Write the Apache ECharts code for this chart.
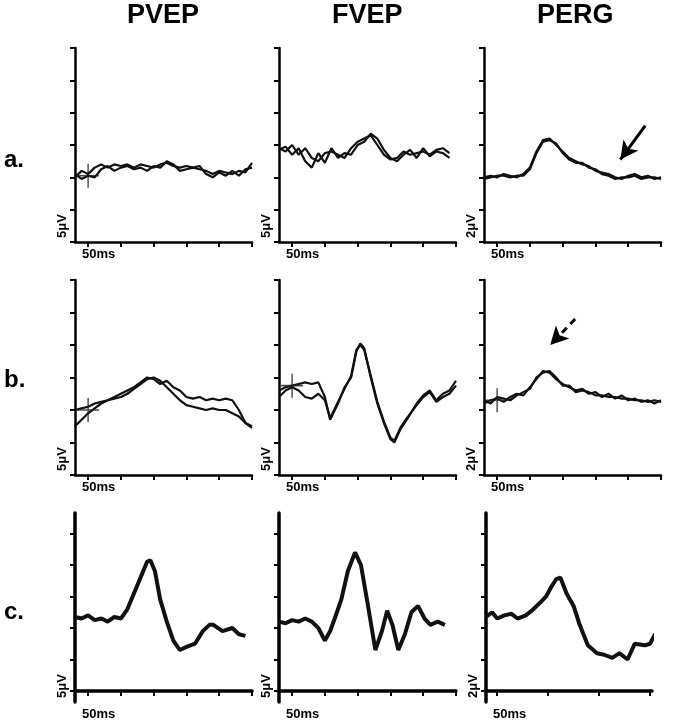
<!DOCTYPE html>
<html><head><meta charset="utf-8">
<script src="https://cdn.jsdelivr.net/npm/echarts@6/dist/echarts.min.js"></script>
<style>html,body{margin:0;background:#fff}#c{width:675px;height:722px}</style>
</head><body><div id="c"></div>
<script>
const columns = ['PVEP','FVEP','PERG'];
const rows = ['a.','b.','c.'];
const scaleLabels = ['5μV','5μV','2μV'];
const timeLabel = '50ms';
const xTicksStd = [50,100,150,200,250,300];
const xTicksPergC = [50,100,150,200];

const aPVEP1=[[30,2.0],[40,2.2],[50,2.1],[60,2.3],[70,2.4],[80,2.3],[90,2.4],[100,2.35],[110,2.4],[120,2.3],[130,2.4],[140,2.35],[150,2.3],[160,2.4],[170,2.45],[180,2.35],[190,2.3],[200,2.35],[210,2.3],[220,2.25],[230,2.2],[240,2.1],[250,2.2],[260,2.15],[270,2.1],[280,2.2],[290,2.15],[300,2.45]];
const aPVEP2=[[30,2.1],[40,1.95],[50,2.05],[60,2.0],[70,2.25],[80,2.35],[90,2.2],[100,2.3],[110,2.35],[120,2.25],[130,2.3],[140,2.2],[150,2.35],[160,2.3],[170,2.5],[180,2.4],[190,2.2],[200,2.25],[210,2.3],[220,2.35],[230,2.1],[240,2.0],[250,2.15],[260,2.05],[270,2.2],[280,2.05],[290,2.25],[300,2.3]];
const aFVEP1=[[30,2.9],[40,2.8],[50,3.0],[60,2.7],[70,2.9],[80,2.6],[90,2.5],[100,2.75],[110,2.8],[120,2.7],[130,2.6],[140,2.9],[150,3.1],[160,3.2],[170,3.3],[180,3.0],[190,2.7],[200,2.55],[210,2.6],[220,2.8],[230,2.7],[240,2.75],[250,2.8],[260,2.7],[270,2.85],[280,2.9],[290,2.75]];
const aFVEP2=[[30,2.85],[40,2.95],[50,2.7],[60,2.9],[70,2.5],[80,2.3],[90,2.75],[100,2.45],[110,2.9],[120,2.6],[130,2.75],[140,2.7],[150,3.0],[160,3.1],[170,3.35],[180,3.2],[190,2.85],[200,2.6],[210,2.5],[220,2.7],[230,2.85],[240,2.6],[250,2.9],[260,2.65],[270,2.8],[280,2.75],[290,2.6]];
const aPERG1=[[30,2.0],[40,2.05],[50,2.0],[60,2.1],[70,2.05],[80,2.0],[90,2.1],[100,2.3],[110,2.8],[120,3.15],[130,3.2],[140,3.0],[150,2.8],[160,2.6],[170,2.5],[180,2.4],[190,2.35],[200,2.2],[210,2.15],[220,2.1],[230,2.0],[240,1.95],[250,2.05],[260,2.1],[270,2.0],[280,2.05],[290,1.95],[300,2.0]];
const aPERG2=[[30,1.95],[40,2.0],[50,2.05],[60,2.05],[70,2.0],[80,2.05],[90,2.05],[100,2.25],[110,2.75],[120,3.1],[130,3.15],[140,3.05],[150,2.75],[160,2.55],[170,2.45],[180,2.45],[190,2.3],[200,2.25],[210,2.1],[220,2.05],[230,1.95],[240,2.0],[250,2.0],[260,2.05],[270,1.95],[280,2.0],[290,2.0],[300,1.95]];
const bPVEP1=[[30,2.0],[40,2.05],[50,2.1],[60,2.2],[70,2.25],[80,2.3],[90,2.4],[100,2.5],[110,2.6],[120,2.7],[130,2.85],[140,3.0],[150,2.95],[160,2.8],[170,2.9],[180,2.7],[190,2.6],[200,2.4],[210,2.35],[220,2.4],[230,2.3],[240,2.35],[250,2.3],[260,2.35],[270,2.3],[280,2.0],[290,1.6],[300,1.45]];
const bPVEP2=[[30,1.5],[40,1.7],[50,1.9],[60,2.05],[70,2.2],[80,2.3],[90,2.35],[100,2.4],[110,2.5],[120,2.65],[130,2.8],[140,2.95],[150,3.0],[160,2.9],[170,2.7],[180,2.5],[190,2.3],[200,2.15],[210,2.1],[220,2.05],[230,2.0],[240,2.05],[250,2.0],[260,2.0],[270,1.9],[280,1.8],[290,1.6],[300,1.5]];
const bFVEP1=[[30,2.6],[40,2.7],[50,2.75],[60,2.8],[70,2.85],[80,2.8],[90,2.85],[100,2.4],[108,1.7],[120,2.2],[130,2.7],[140,3.0],[148,3.8],[154,4.05],[160,3.9],[170,3.0],[180,2.2],[190,1.6],[200,1.1],[206,1.0],[215,1.4],[225,1.7],[240,2.2],[250,2.45],[260,2.6],[270,2.3],[280,2.5],[290,2.6],[300,2.9]];
const bFVEP2=[[30,2.4],[40,2.6],[50,2.7],[60,2.6],[70,2.4],[80,2.35],[90,2.5],[100,2.3],[108,1.75],[120,2.25],[130,2.65],[140,3.05],[148,3.85],[154,4.0],[160,3.85],[170,3.05],[180,2.25],[190,1.65],[200,1.15],[206,1.05],[215,1.45],[225,1.75],[240,2.15],[250,2.4],[260,2.55],[270,2.25],[280,2.4],[290,2.5],[300,2.75]];
const bPERG1=[[30,2.2],[40,2.3],[50,2.35],[60,2.25],[70,2.4],[80,2.5],[90,2.45],[100,2.7],[110,2.95],[120,3.2],[130,3.15],[140,2.95],[150,2.8],[160,2.7],[170,2.6],[180,2.65],[190,2.5],[200,2.55],[210,2.4],[220,2.5],[230,2.35],[240,2.45],[250,2.3],[260,2.35],[270,2.25],[280,2.3],[290,2.2],[300,2.3]];
const bPERG2=[[30,2.3],[40,2.2],[50,2.4],[60,2.35],[70,2.3],[80,2.45],[90,2.55],[100,2.65],[110,3.0],[120,3.15],[130,3.2],[140,3.0],[150,2.75],[160,2.75],[170,2.55],[180,2.6],[190,2.55],[200,2.45],[210,2.45],[220,2.4],[230,2.4],[240,2.35],[250,2.35],[260,2.3],[270,2.3],[280,2.25],[290,2.3],[300,2.25]];
const cPVEP=[[30,2.35],[40,2.3],[50,2.4],[60,2.25],[70,2.3],[80,2.2],[90,2.35],[100,2.3],[110,2.6],[120,3.1],[130,3.6],[140,4.1],[145,4.15],[152,3.8],[160,2.9],[170,2.2],[180,1.6],[190,1.3],[200,1.4],[213,1.5],[225,1.9],[235,2.1],[241,2.1],[255,1.9],[270,2.0],[280,1.8],[290,1.75]];
const cFVEP=[[30,2.2],[40,2.15],[50,2.25],[60,2.2],[70,2.3],[80,2.2],[90,2.0],[100,1.6],[108,1.9],[115,2.3],[125,2.9],[135,3.8],[146,4.4],[155,4.0],[165,2.8],[177,1.3],[187,1.9],[195,2.55],[203,2.1],[212,1.3],[222,1.8],[232,2.5],[242,2.7],[252,2.3],[261,2.1],[272,2.2],[283,2.1]];
const cPERG=[[39,2.35],[45,2.5],[50,2.3],[57,2.4],[64,2.45],[70,2.3],[78,2.4],[84,2.55],[92,2.8],[98,3.0],[103,3.3],[108,3.55],[112,3.6],[118,3.1],[125,2.7],[131,2.1],[139,1.45],[148,1.2],[155,1.15],[163,1.05],[170,1.2],[178,1.0],[185,1.5],[195,1.45],[200,1.5],[205,1.8],[209,1.78]];
const crossA=[[50,2.05]], crossB=[[50,2.0]];
const arrowA=[[276,3.6],[238,2.55]];
const arrowB=[[169,4.8],[131,4.0]];

const panels=[
 {r:0,c:0,series:[aPVEP1,aPVEP2],cross:crossA},
 {r:0,c:1,series:[aFVEP1,aFVEP2]},
 {r:0,c:2,series:[aPERG1,aPERG2],arrow:arrowA,dashed:false},
 {r:1,c:0,series:[bPVEP1,bPVEP2],cross:crossB},
 {r:1,c:1,series:[bFVEP1,bFVEP2],cross:[[50,2.75]]},
 {r:1,c:2,series:[bPERG1,bPERG2],arrow:arrowB,dashed:true,cross:[[50,2.3]]},
 {r:2,c:0,series:[cPVEP]},
 {r:2,c:1,series:[cFVEP]},
 {r:2,c:2,series:[cPERG]}
];
const colLeft=[75,279,484], rowTop=[48,280,513], rowH=[194,195,189];
const grid=[],xAxis=[],yAxis=[],series=[];
panels.forEach((p,i)=>{
  const pc = p.r===2&&p.c===2;
  const thick = p.r===2;
  grid.push({left:pc?486:colLeft[p.c],top:rowTop[p.r],width:pc?166:177,height:rowH[p.r]});
  const axLine={lineStyle:{color:'#000',width:thick?3.5:2.5}};
  xAxis.push({type:'value',gridIndex:i,min:pc?39:30,max:pc?202:300,splitLine:{show:false},
    axisLine:axLine,axisLabel:{show:false},
    axisTick:{show:true,length:5,lineStyle:{color:'#000',width:2},customValues:pc?xTicksPergC:xTicksStd}});
  const yt = thick?[0,1,2,3,4,5]:[0,1,2,3,4,5,6];
  yAxis.push({type:'value',gridIndex:i,min:thick?-0.35:0,max:thick?5.65:6,splitLine:{show:false},
    axisLine:axLine,axisLabel:{show:false},
    axisTick:{show:true,length:5,lineStyle:{color:'#000',width:2},customValues:yt}});
  p.series.forEach((d,k)=>{
    const s={type:'line',xAxisIndex:i,yAxisIndex:i,data:d,symbol:'none',
      lineStyle:{color:'#111',width:thick?4:2.2},z:3};
    if(k===0&&p.arrow){
      s.markLine={silent:true,symbol:['none','arrow'],symbolSize:[14,18],label:{show:false},
        lineStyle:{color:'#000',width:3,type:p.dashed?[7,5]:'solid'},
        data:[[{coord:p.arrow[0]},{coord:p.arrow[1]}]]};
    }
    series.push(s);
  });
  if(p.cross){
    series.push({type:'scatter',xAxisIndex:i,yAxisIndex:i,data:p.cross,
      symbol:'path://M0,10L20,10M10,0L10,20',symbolSize:[22,24],
      itemStyle:{color:'none',borderColor:'#222',borderWidth:1.5},z:4});
  }
});
const graphic=[];
const titleX=[165,370,575];
columns.forEach((t,i)=>graphic.push({type:'text',left:titleX[i]-38,top:2,
  style:{text:t,font:'bold 27px "Liberation Sans", Arial',fill:'#000'}}));
const rowLabY=[148,368,600];
rows.forEach((t,i)=>graphic.push({type:'text',left:4,top:rowLabY[i],
  style:{text:t,font:'bold 24px "Liberation Sans", Arial',fill:'#000'}}));
const axisBottom=[242,475,702];
for(let r=0;r<3;r++){
  for(let c=0;c<3;c++){
    const lx=(r===2&&c===2)?486:colLeft[c];
    graphic.push({type:'text',x:lx-6,y:axisBottom[r]-4,rotation:Math.PI/2,
      style:{text:scaleLabels[c],font:'bold 13px "Liberation Sans", Arial',fill:'#000',align:'left',verticalAlign:'bottom'}});
    graphic.push({type:'text',left:lx+7,top:axisBottom[r]+6,
      style:{text:timeLabel,font:'bold 13px "Liberation Sans", Arial',fill:'#000'}});
  }
}
const chart=echarts.init(document.getElementById('c'));
chart.setOption({animation:false,grid,xAxis,yAxis,series,graphic});
</script></body></html>
